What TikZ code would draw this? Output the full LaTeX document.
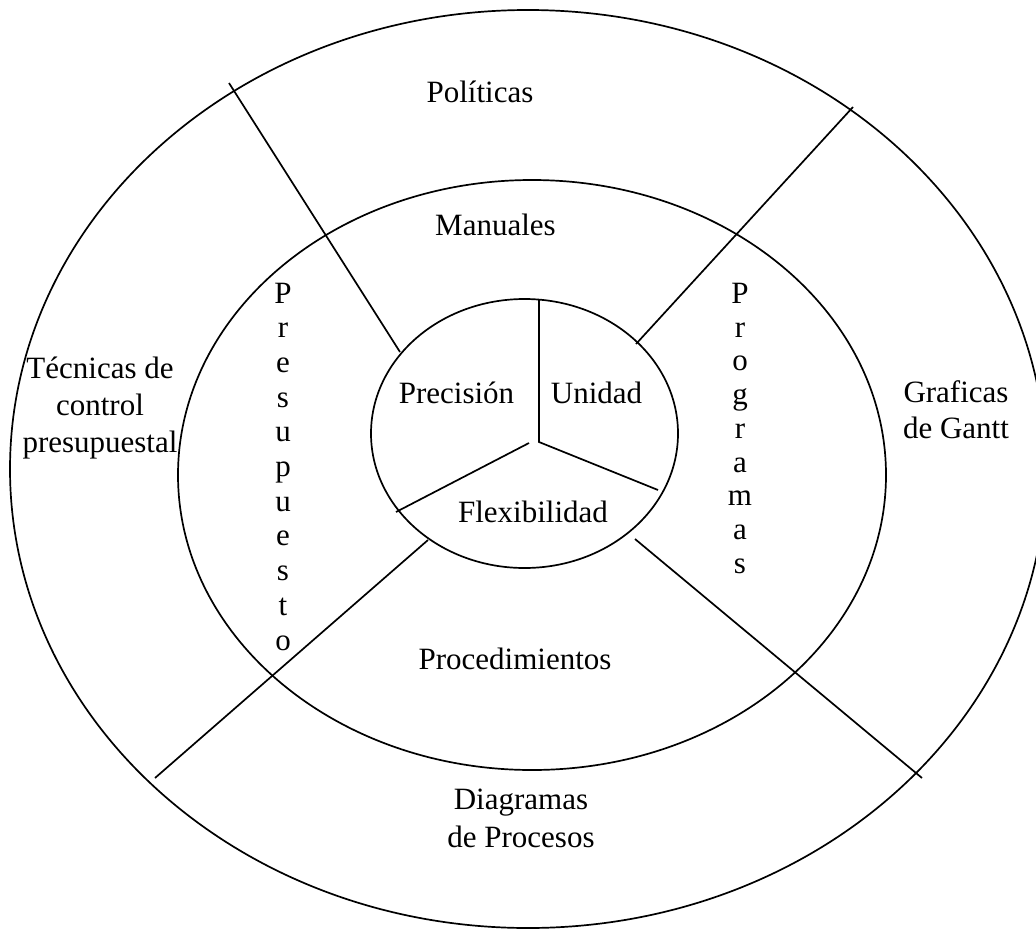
\documentclass[tikz,border=0pt]{standalone}
\usepackage{fontspec}
\setmainfont{Liberation Serif}
\begin{document}
\begin{tikzpicture}[x=1pt,y=-1pt,
  ring/.style={line width=1.7pt},
  divider/.style={line width=1.7pt},
  lbl/.style={inner sep=0pt, anchor=base, font=\fontsize{31}{36}\selectfont},
]
\clip (0,0) rectangle (1036,929);
\fill[white] (0,0) rectangle (1036,929);

% three nested rings
\draw[ring] (528,469) ellipse [x radius=518pt, y radius=459pt];
\draw[ring] (532,475) ellipse [x radius=354pt, y radius=295pt];
\draw[ring] (524.5,433.5) ellipse [x radius=153.5pt, y radius=134.5pt];

% end points of the dividers
\coordinate (ulA) at (229,83);   \coordinate (ulB) at (400,352);
\coordinate (urA) at (853,107);  \coordinate (urB) at (636,344);
\coordinate (llA) at (155,778);  \coordinate (llB) at (428,540);
\coordinate (lrA) at (922,778);  \coordinate (lrB) at (635,539);
\coordinate (top) at (539,299);  \coordinate (hub) at (539,442);
\coordinate (hubL) at (529,443); \coordinate (cR) at (658,490);
\coordinate (cL) at (396,512);

% dividers between the outer sectors
\draw[divider] (ulA) -- (ulB);
\draw[divider] (urA) -- (urB);
\draw[divider] (llA) -- (llB);
\draw[divider] (lrA) -- (lrB);

% dividers of the core
\draw[divider] (top) -- (hub) -- (cR);
\draw[divider] (hubL) -- (cL);

% outer ring
\node[lbl] (pol) at (480,102) {Políticas};
\node[lbl] (tec1) at (100,378) {Técnicas de};
\node[lbl] (tec2) at (100,415) {control};
\node[lbl] (tec3) at (100,452) {presupuestal};
\node[lbl] (gan1) at (956,402) {Graficas};
\node[lbl] (gan2) at (956,438) {de Gantt};
\node[lbl] (dia1) at (521,809) {Diagramas};
\node[lbl] (dia2) at (521,847) {de Procesos};

% middle ring
\node[lbl] (man) at (495.5,235) {Manuales};
\node[lbl] (proc) at (515,669) {Procedimientos};
\foreach \ch [count=\i from 0] in {P,r,e,s,u,p,u,e,s,t,o}
  \node[lbl] (pre-\i) at (283,{303+34.7*\i}) {\ch};
\foreach \ch [count=\i from 0] in {P,r,o,g,r,a,m,a,s}
  \node[lbl] (prg-\i) at (740,{303.3+33.75*\i}) {\ch};

% core
\node[lbl] (prec) at (456.5,403) {Precisión};
\node[lbl] (uni) at (596.5,403) {Unidad};
\node[lbl] (flex) at (533,522) {Flexibilidad};
\end{tikzpicture}
\end{document}
